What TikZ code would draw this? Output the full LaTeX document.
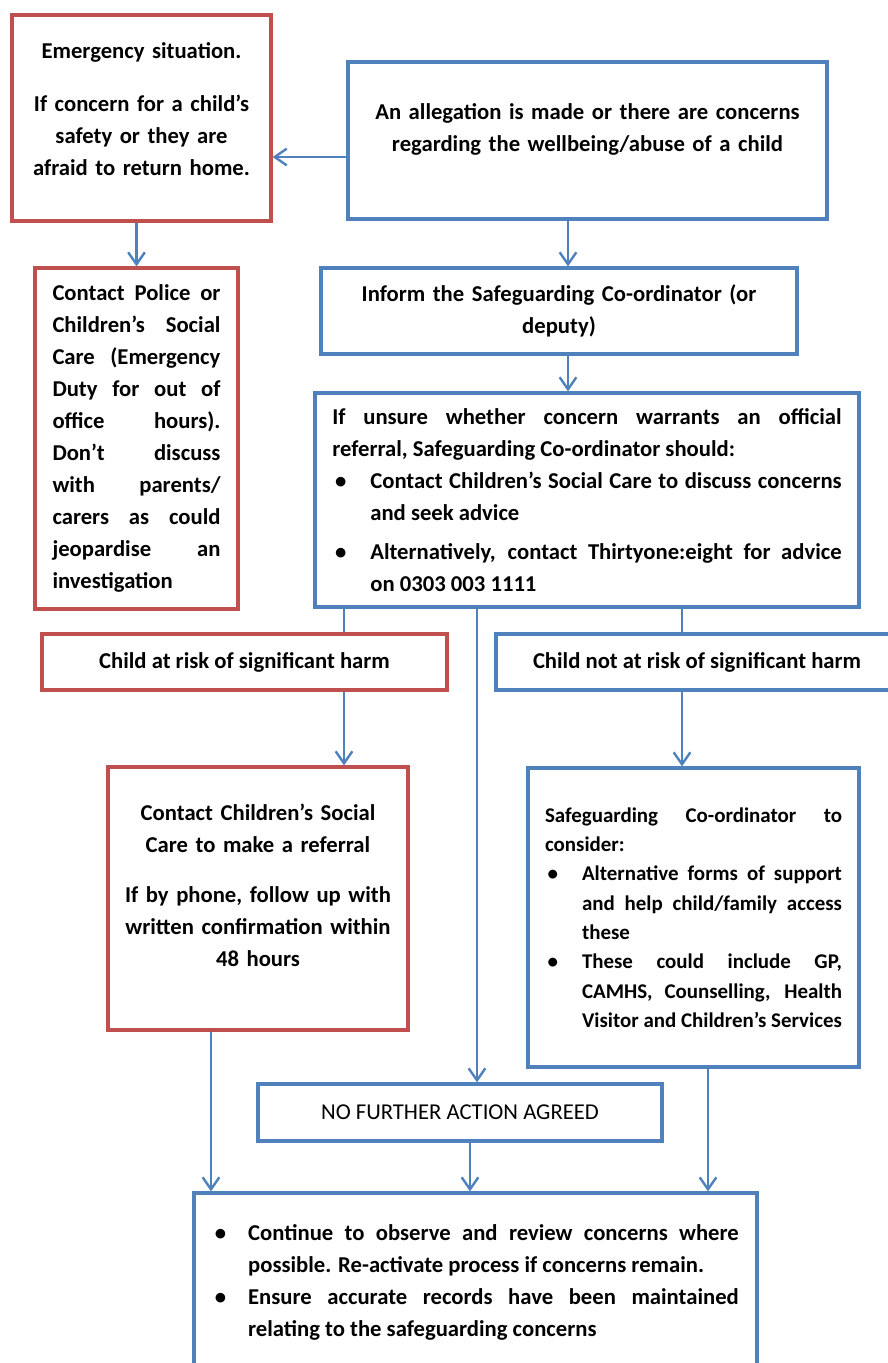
\documentclass[tikz,border=0pt]{standalone}
\usepackage{fontspec}
\setmainfont{Carlito}
\usepackage{tikz}
\usetikzlibrary{arrows.meta,positioning,calc}
\definecolor{boxred}{RGB}{192,80,77}
\definecolor{boxblue}{RGB}{79,129,189}
\newcommand{\bul}[2][28.5pt]{\par\hangindent=#1\hangafter=1\noindent\makebox[#1][l]{\hspace{2pt}•}#2\par}

\begin{document}
\begin{tikzpicture}[x=0.75pt,y=-0.75pt,font=\fontsize{17}{24}\selectfont\bfseries,
  box/.style={draw,line width=2.4pt,inner sep=0pt},
  redbox/.style={box,draw=boxred},
  bluebox/.style={box,draw=boxblue},
  link/.style={draw=boxblue,line width=1.8pt},
  arr/.style={link,-{Straight Barb[length=9pt,width=12.5pt]}}]
   \useasboundingbox (0,0) rectangle (888,1363);
   % top row
   \node (emerg) at (141.5,118)[redbox,minimum width=194.25pt,minimum height=154.5pt,text width=185pt,align=center,text depth=101pt] {Emergency situation.\\[16pt]
     If concern for a child’s\\ safety or they are\\ afraid to return home.};
   \node (alleg) at (587.5,140.5)[bluebox,minimum width=359.25pt,minimum height=117.75pt,text width=340pt,align=center,text depth=43pt] {An allegation is made or there are concerns\\
     regarding the wellbeing/abuse of a child};
   \node (police) at (136.5,438.5)[redbox,minimum width=152.25pt,minimum height=255.75pt,text width=126pt,align=justify] {Contact Police or\linebreak
     Children’s Social\linebreak Care (Emergency\linebreak Duty for out of\linebreak office hours).\linebreak
     Don’t discuss\linebreak with parents/\linebreak carers as could\linebreak jeopardise an\linebreak investigation};
   \node (inform) at (559,311)[bluebox,minimum width=357pt,minimum height=64.5pt,text width=340pt,align=center] {Inform the Safeguarding Co-ordinator (or\\ deputy)};
   \node (unsure) at (587,500)[bluebox,minimum width=408pt,minimum height=160.5pt,text width=382pt,align=justify] {If unsure whether concern warrants an official\linebreak
     referral, Safeguarding Co-ordinator should:
     \bul{Contact Children’s Social Care to discuss concerns\linebreak and seek advice}
     \vspace{5pt}
     \bul{Alternatively, contact Thirtyone:eight for advice\linebreak on 0303 003 1111}};
   % risk split
   \node (atrisk) at (244.5,662)[redbox,minimum width=303.75pt,minimum height=42pt] {Child at risk of significant harm};
   \node (notrisk) at (697,662)[bluebox,minimum width=301.5pt,minimum height=42pt] {Child not at risk of significant harm};
   \node (csc) at (258,898.5)[redbox,minimum width=225pt,minimum height=197.25pt,text width=210pt,align=center,text depth=130pt] {Contact Children’s Social\\ Care to make a referral\\[13.5pt]
     If by phone, follow up with\\ written confirmation within\\ 48 hours};
   \node (sgc) at (693.5,917.5)[bluebox,minimum width=248.25pt,minimum height=224.25pt,text width=222.75pt,align=justify,font=\fontsize{15.7}{22}\selectfont\bfseries] {Safeguarding Co-ordinator to\linebreak consider:
     \bul[27.75pt]{Alternative forms of support\linebreak and help child/family access\linebreak these}
     \bul[27.75pt]{These could include GP,\linebreak CAMHS, Counselling, Health\linebreak Visitor and Children’s Services}};
   \node (nfa) at (460,1112.5)[bluebox,minimum width=303pt,minimum height=42.75pt,font=\fontsize{17}{24}\selectfont] {NO FURTHER ACTION AGREED};
   \node (final) at (475.5,1286.5)[bluebox,minimum width=422.25pt,minimum height=140.25pt,text width=395pt,align=justify,text depth=116.5pt] {\bul[27pt]{Continue to observe and review concerns where\linebreak
     possible. Re-activate process if concerns remain.}
     \bul[27pt]{Ensure accurate records have been maintained\linebreak relating to the safeguarding concerns}};
   % connectors
   \coordinate (a1) at ($(alleg.west)+(0,16.5)$);
   \draw[arr] (a1) -- (a1 -| emerg.east);
   \draw[arr] (emerg.south -| police.north) -- (police.north);
   \foreach \x in {344,682} \draw[link] (\x,0 |- unsure.south) -- (\x,0 |- atrisk.north);
   \foreach \a/\b/\x in {alleg/inform/568, inform/unsure/568, unsure/nfa/477, atrisk/csc/344, notrisk/sgc/682, csc/final/211, nfa/final/470, sgc/final/708}
     \draw[arr] (\x,0 |- \a.south) -- (\x,0 |- \b.north);
\end{tikzpicture}
\end{document}
